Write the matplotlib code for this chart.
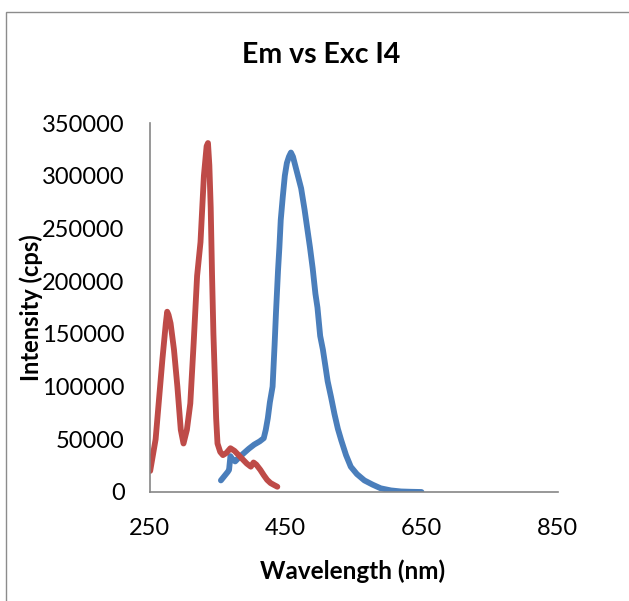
import matplotlib.pyplot as plt
from matplotlib.patches import Rectangle

# excitation scan (red)
exc_wl = [251, 255, 259, 264, 269, 274, 276, 278, 281, 286, 291, 296, 300, 305,
          310, 315, 320, 325, 330, 334, 336, 338, 340, 342, 344, 346, 348, 350,
          354, 358, 363, 369, 375, 381, 387, 393, 399, 403, 407, 413, 418, 423,
          428, 433, 438]
exc_int = [20000, 35000, 50000, 88000, 126000, 160000, 171000, 168000, 160000,
           135000, 100000, 59000, 46000, 59000, 84000, 142000, 205000, 237000,
           300000, 328000, 331000, 310000, 270000, 205000, 150000, 110000, 70000,
           46000, 38000, 35000, 37000, 41500, 39000, 35000, 31000, 27000, 24000,
           28000, 26000, 21000, 16000, 11500, 8500, 6700, 5000]

# emission scan (blue)
em_wl = [355, 360, 365, 367, 369, 372, 376, 382, 389, 396, 404, 412, 418, 421,
         424, 427, 431, 434, 436, 439, 441, 443, 446, 449, 452, 455, 458, 461,
         465, 469, 473, 478, 482, 486, 490, 494, 497, 501, 505, 509, 512, 517,
         522, 527, 532, 539, 546, 555, 566, 578, 590, 605, 620, 635, 650]
em_int = [11000, 15000, 19000, 21000, 34000, 31000, 29000, 33000, 37000, 41000,
          45000, 48000, 51000, 59000, 70000, 85000, 100000, 140000, 170000,
          210000, 232000, 258000, 280000, 300000, 312000, 318000, 322000, 318000,
          308000, 298000, 288000, 268000, 250000, 232000, 212000, 188000, 175000,
          148000, 135000, 118000, 105000, 90000, 74000, 60000, 49000, 35000,
          24000, 17000, 11000, 7000, 3500, 1500, 500, 200, 0]

x_ticks = [250, 450, 650, 850]
y_ticks = [0, 50000, 100000, 150000, 200000, 250000, 300000, 350000]

plt.rcParams['font.family'] = ['Lato', 'DejaVu Sans']

fig = plt.figure(figsize=(6.29, 6.01), dpi=100)
# chart area frame
fig.patches.append(Rectangle((6 / 629, -0.1), 1.2, 1 - 11.5 / 601 + 0.1,
                             transform=fig.transFigure, fill=False,
                             edgecolor='#8c8c8c', linewidth=1))

ax = fig.add_axes([149.5 / 629, 1 - 492 / 601, (557.5 - 149.5) / 629, (492 - 123) / 601])
ax.plot(em_wl, em_int, color='#4a7ebb', linewidth=4.2, solid_capstyle='round')
ax.plot(exc_wl, exc_int, color='#be4b48', linewidth=4.2, solid_capstyle='round')

ax.set_xlim(250, 850)
ax.set_ylim(0, 350000)
ax.set_xticks(x_ticks)
ax.set_yticks(y_ticks)
ax.tick_params(length=0, labelsize=17)
ax.tick_params(axis='y', pad=18)
ax.tick_params(axis='x', pad=19)
for s in ['top', 'right']:
    ax.spines[s].set_visible(False)
for s in ['left', 'bottom']:
    ax.spines[s].set_color('#868686')
    ax.spines[s].set_linewidth(1.2)

ax.set_xlabel('Wavelength (nm)', fontsize=17.5, fontweight='bold')
ax.set_ylabel('Intensity (cps)', fontsize=17, fontweight='bold')
ax.xaxis.set_label_coords((353 - 149.5) / 408, -(559 - 492) / 369)
ax.yaxis.set_label_coords(-(149.5 - 43) / 408, (492 - 308) / 369)
fig.text(321 / 629, 1 - 55 / 601, 'Em vs Exc I4', fontsize=20.5, fontweight='bold',
         ha='center', va='center')

fig.savefig('out.png', dpi=100)
